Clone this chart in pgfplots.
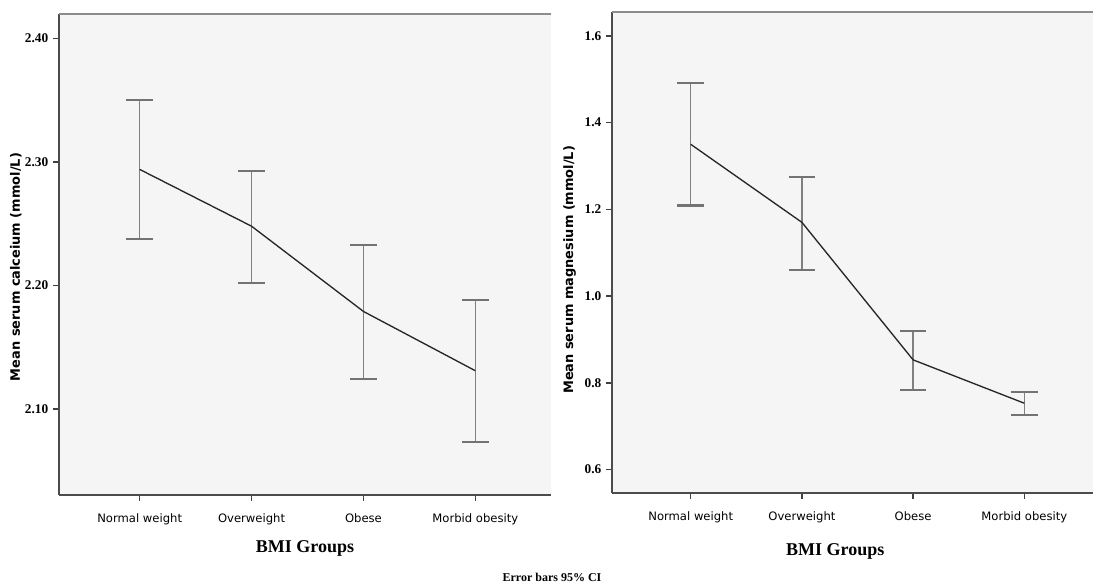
\documentclass[border=0pt]{standalone}
\usepackage{fontspec}
\setmainfont{Liberation Serif}
\newfontfamily\catfont{DejaVu Sans}
\usepackage{pgfplots}
\pgfplotsset{compat=1.18}
\usepackage{pgfplotstable}

\pgfplotstableread{
x m ep em
0 2.294 0.056 0.056
1 2.248 0.045 0.046
2 2.179 0.054 0.055
3 2.131 0.057 0.058
}\calc

\pgfplotstableread{
x m ep em
0 1.350 0.142 0.141
1 1.170 0.104 0.109
2 0.853 0.067 0.070
3 0.753 0.025 0.027
}\magn

\pgfplotsset{
  spss/.style={
    scale only axis,
    clip=false,
    axis lines=left,
    axis line style={-, draw=black!70, line width=1.4pt},
    axis background/.style={fill=black!4},
    tick align=outside,
    major tick length=4.5pt,
    tick style={draw=black!75, line width=1pt},
    xtick={0,1,2,3},
    xticklabels={Normal weight, Overweight, Obese, Morbid obesity},
    xticklabel style={font=\catfont\fontsize{8.7}{10}\selectfont, yshift=-6pt},
    yticklabel style={font=\bfseries\fontsize{10}{12}\selectfont},
    /pgf/number format/assume math mode=true,
    ylabel style={font=\catfont\bfseries\fontsize{9.7}{11}\selectfont, anchor=center},
    xlabel style={font=\bfseries\fontsize{13.5}{15}\selectfont, anchor=center},
    xlabel={BMI Groups},
  },
  ebar/.style={draw=none, mark=none, forget plot,
    error bars/.cd, y dir=both, y explicit,
    error bar style={draw=black!50, line width=1pt},
    error mark options={rotate=90, draw=black!55, line width=1.6pt, mark size=10pt}},
  mline/.style={black!85, line width=1pt, mark=none},
}

\begin{document}
\begin{tikzpicture}
\path[use as bounding box] (0,0) rectangle (819.75pt,-440.25pt);

\begin{axis}[spss,
  at={(44.25pt,-10.5pt)}, anchor=north west,
  width=369pt, height=360.75pt,
  xmin=-0.721, xmax=3.676,
  ymin=2.0304, ymax=2.4198,
  ytick={2.1,2.2,2.3,2.4},
  yticklabel={\pgfmathprintnumber[fixed,fixed zerofill,precision=2]{\tick}},
  ylabel={Mean serum calceium (mmol/L)},
  ylabel style={at={(axis description cs:-0.088,0.474)}},
  xlabel style={at={(axis description cs:0.5,-0.112)}},
]
\addplot[ebar] table[x=x, y=m, y error plus=ep, y error minus=em] {\calc};
\addplot[mline] table[x=x, y=m] {\calc};
\draw[black!45, line width=1.5pt] (rel axis cs:0,1) -- (rel axis cs:1,1);
\end{axis}

\begin{axis}[spss,
  at={(459pt,-9pt)}, anchor=north west,
  width=360.75pt, height=360.75pt,
  xmin=-0.708, xmax=3.618,
  ymin=0.546, ymax=1.655,
  ytick={0.6,0.8,1.0,1.2,1.4,1.6},
  yticklabel={\pgfmathprintnumber[fixed,fixed zerofill,precision=1]{\tick}},
  ylabel={Mean serum magnesium (mmol/L)},
  ylabel style={at={(axis description cs:-0.088,0.464)}},
  xlabel style={at={(axis description cs:0.464,-0.121)}},
]
\addplot[ebar] table[x=x, y=m, y error plus=ep, y error minus=em] {\magn};
\addplot[mline] table[x=x, y=m] {\magn};
\draw[black!45, line width=1.5pt] (rel axis cs:0,1) -- (rel axis cs:1,1);
\end{axis}

\node[font=\bfseries\fontsize{9}{10}\selectfont] at (414pt,-432.75pt) {Error bars 95\% CI};
\end{tikzpicture}
\end{document}
